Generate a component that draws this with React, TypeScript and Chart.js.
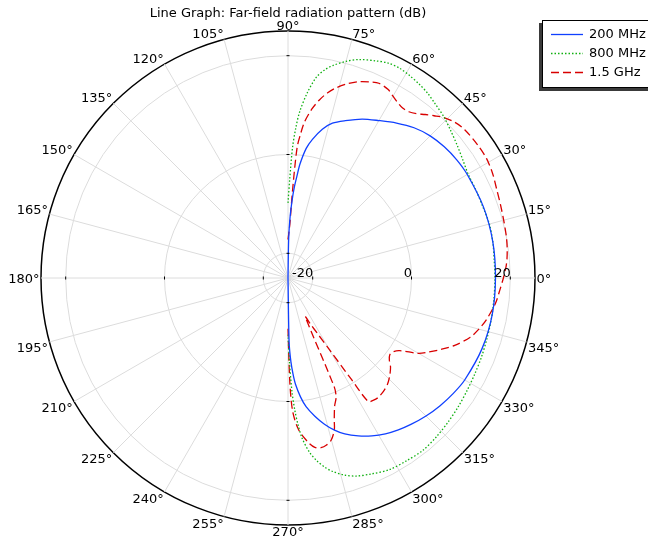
import React, { useEffect, useRef } from 'react';
import { Chart, registerables, RadarController } from 'chart.js';

Chart.register(...registerables);

// Radar controller whose line is left open (a far-field cut from -90 to 90 degrees).
class OpenRadarController extends (RadarController as any) {
  static id = 'openRadar';
  update(mode: any) {
    super.update(mode);
    const line: any = (this as any)._cachedMeta.dataset;
    if (line) {
      line._loop = false;
      line._fullLoop = false;
      delete line._segments;
      delete line._path;
      line._pointsUpdated = false;
    }
  }
}
Chart.register(OpenRadarController as any);

// ---------------- data ----------------
const TITLE = 'Line Graph: Far-field radiation pattern (dB)';
const SERIES_NAMES = ['200 MHz', '800 MHz', '1.5 GHz'];
const R_MIN = -25;
const R_MAX = 25;
const RADIAL_TICKS = [-20, 0, 20];
const ANGLE_TICKS = [0, 15, 30, 45, 60, 75, 90, 105, 120, 135, 150, 165, 180, 195, 210, 225, 240, 255, 270, 285, 300, 315, 330, 345];

// angles in degrees (counter-clockwise from the right), values in dB
const ANGLES_200MHZ = [90, 89, 88, 87, 86, 85, 84, 82, 80, 77, 74, 70, 65, 60, 55, 50, 45, 40, 35, 30, 20, 10, 0, -10, -20, -30, -35, -40, -45, -50, -54, -58, -62, -66, -70, -73, -76, -79, -82, -84, -86, -87, -88, -89, -90];
const DB_200MHZ = [-25, -17, -12.5, -9.3, -6.5, -4.3, -1.8, 1.5, 3.5, 5.9, 7.6, 8.9, 10.5, 11.8, 13.3, 14.7, 15.7, 16.3, 16.7, 16.9, 17.1, 17.1, 17.0, 17.0, 16.8, 16.3, 15.8, 15.2, 14.5, 13.7, 13.0, 12.2, 11.2, 10.0, 8.6, 7.2, 5.5, 3.5, 1.3, -0.8, -3.5, -5.5, -8, -12, -25];

const ANGLES_800MHZ = [90, 89, 88, 87, 86, 84, 82, 80, 78, 75, 72, 68, 65, 62, 59, 56, 53, 50, 46, 42, 38, 34, 30, 25, 20, 15, 10, 5, 0, -6, -12, -17, -22, -27, -32, -37, -42, -47, -52, -57, -62, -67, -71, -74, -77, -79, -81, -83, -85, -86, -87, -88, -89, -90];
const DB_800MHZ = [-9.8, -5, 1.5, 5.5, 8.7, 12.8, 16.0, 17.8, 19.0, 20.4, 21.5, 22.4, 23.0, 23.1, 22.8, 22.4, 21.9, 21.2, 20.4, 19.4, 18.5, 17.7, 17.1, 17.0, 17.0, 17.2, 17.1, 16.9, 16.9, 16.9, 17.0, 17.1, 17.3, 17.5, 17.8, 18.2, 18.6, 19.0, 19.3, 19.1, 18.9, 18.1, 17.4, 16.5, 15.2, 14.0, 12.5, 10.5, 7.5, 5, 2, -2, -8, -13.5];

const ANGLES_1_5GHZ = [90, 89, 88, 87, 86, 85, 84, 82, 80, 78, 76, 73, 70, 67, 65, 62, 60, 58, 56, 54, 52, 50, 48, 46, 43, 40, 35, 31, 27, 23, 19, 15, 11, 8, 5, 3, 0, -3, -7, -12, -15, -18, -22, -25, -28, -30, -33, -35, -37, -39, -41, -44, -47, -50, -53, -55, -57, -58, -60, -62, -64, -66, -67, -68, -70, -72, -73, -75, -77, -79, -81, -83, -86, -88, -89, -90];
const DB_1_5GHZ = [-17.2, -16, -14, -7, 1.5, 4.3, 6.7, 9.5, 11.6, 13.3, 14.6, 16.1, 17.3, 18.1, 18.5, 18.2, 17.5, 16.9, 16.5, 16.6, 17.2, 18.2, 19.2, 20.2, 21.2, 21.7, 21.9, 21.9, 21.5, 20.9, 20.5, 20.2, 20.0, 19.8, 19.5, 19.2, 18.6, 18.0, 17.3, 16.0, 15.0, 13.8, 11.4, 9.2, 7.0, 5.5, 2.0, 1.0, 0.8, 1.4, 2.5, 3.6, 4.5, 5.0, 5.3, 5.2, 4.8, -0.9, -8.3, -12.2, -14.6, -16.4, -1.0, 1.0, 2.6, 5.3, 7.1, 8.9, 9.7, 10.0, 9.7, 8.5, 5.8, 2.0, -4, -15];

const COLORS = ['#1040ff', '#10b010', '#d80000'];
const DASHES: number[][] = [[], [1.5, 2], [8, 4]];

// ---------------- helpers ----------------
const N_DIR = 360; // one radar spoke per degree, spoke 0 at the top (90 deg)
const FONT = '"DejaVu Sans", sans-serif';
const indexOfAngle = (deg: number) => (((90 - deg) % N_DIR) + N_DIR) % N_DIR;
const LABELS = Array.from({ length: N_DIR }, (_, i) => `${(((90 - i) % 360) + 360) % 360}°`);
const buildSeries = (angles: number[], values: number[]) => {
  const d: (number | null)[] = new Array(N_DIR).fill(null);
  angles.forEach((a, k) => {
    d[indexOfAngle(a)] = values[k];
  });
  return d;
};

const overlayPlugin = {
  id: 'polarOverlay',
  afterDatasetsDraw(chart: any) {
    const s = chart.scales.r;
    const ctx = chart.ctx as CanvasRenderingContext2D;
    ctx.save();
    // small tick marks on the main axes
    ctx.strokeStyle = '#000';
    ctx.lineWidth = 1;
    for (const th of [0, 90, 180, 270]) {
      for (const v of RADIAL_TICKS) {
        const p = s.getPointPositionForValue(indexOfAngle(th), v);
        const tx = -Math.sin(p.angle) * 1.5;
        const ty = Math.cos(p.angle) * 1.5;
        ctx.beginPath();
        ctx.moveTo(p.x - tx, p.y - ty);
        ctx.lineTo(p.x + tx, p.y + ty);
        ctx.stroke();
      }
    }
    // radial tick labels along 0 deg
    ctx.fillStyle = '#000';
    ctx.font = `13px ${FONT}`;
    ctx.textAlign = 'right';
    ctx.textBaseline = 'alphabetic';
    for (const v of RADIAL_TICKS) {
      const p = s.getPointPositionForValue(indexOfAngle(0), v);
      ctx.fillText(String(v), p.x + 0.5, p.y - 1);
    }
    // angle labels
    const capH = 9.5;
    for (const th of ANGLE_TICKS) {
      const p = s.getPointPosition(indexOfAngle(th), s.drawingArea + 1.5);
      const c = Math.cos((th * Math.PI) / 180);
      const sn = Math.sin((th * Math.PI) / 180);
      ctx.textAlign = Math.abs(c) < 0.01 ? 'center' : c > 0 ? 'left' : 'right';
      let y = p.y + capH / 2;
      if (sn > 0.01) y = p.y;
      else if (sn < -0.01) y = p.y + capH;
      ctx.fillText(`${th}°`, p.x, y);
    }
    ctx.restore();
  },
  afterDraw(chart: any) {
    const ctx = chart.ctx as CanvasRenderingContext2D;
    ctx.save();
    const bx = 542, by = 20, bw = 112, bh = 68;
    ctx.fillStyle = '#3a3a3a';
    ctx.fillRect(bx - 3, by + 3, bw, bh);
    ctx.fillStyle = '#fff';
    ctx.fillRect(bx, by, bw, bh);
    ctx.strokeStyle = '#000';
    ctx.lineWidth = 1;
    ctx.strokeRect(bx + 0.5, by + 0.5, bw - 1, bh - 1);
    ctx.font = `13px ${FONT}`;
    ctx.textBaseline = 'middle';
    ctx.textAlign = 'left';
    SERIES_NAMES.forEach((name, k) => {
      const y = by + 14.5 + k * 19;
      ctx.strokeStyle = COLORS[k];
      ctx.lineWidth = 1.3;
      ctx.setLineDash(DASHES[k]);
      ctx.beginPath();
      ctx.moveTo(551, y);
      ctx.lineTo(583, y);
      ctx.stroke();
      ctx.setLineDash([]);
      ctx.fillStyle = '#000';
      ctx.fillText(name, 589, y);
    });
    ctx.restore();
  },
};

export default function App() {
  const ref = useRef<HTMLCanvasElement | null>(null);
  useEffect(() => {
    if (!ref.current) return;
    Chart.defaults.font.family = FONT;
    const series = [
      buildSeries(ANGLES_200MHZ, DB_200MHZ),
      buildSeries(ANGLES_800MHZ, DB_800MHZ),
      buildSeries(ANGLES_1_5GHZ, DB_1_5GHZ),
    ];
    const chart = new Chart(ref.current, {
      type: 'openRadar' as any,
      data: {
        labels: LABELS,
        datasets: series.map((d, k) => ({
          label: SERIES_NAMES[k],
          data: d,
          borderColor: COLORS[k],
          backgroundColor: 'rgba(0,0,0,0)',
          borderWidth: 1.3,
          borderDash: DASHES[k],
          fill: false,
          spanGaps: true,
          tension: 0.3,
          pointRadius: 0,
          pointHoverRadius: 0,
        })),
      },
      options: {
        responsive: false,
        devicePixelRatio: 1,
        animation: false,
        events: [],
        layout: { padding: { left: 41, right: 113, top: 0, bottom: 16 } },
        scales: {
          r: {
            min: R_MIN,
            max: R_MAX,
            startAngle: 0,
            afterBuildTicks: (scale: any) => {
              scale.ticks = [R_MIN, ...RADIAL_TICKS, R_MAX].map((v) => ({ value: v }));
            },
            ticks: { display: false },
            pointLabels: { display: false },
            grid: {
              circular: true,
              color: (c: any) => (c.tick.value === R_MAX ? '#000' : c.tick.value === R_MIN ? 'rgba(0,0,0,0)' : '#dcdcdc'),
              lineWidth: (c: any) => (c.tick.value === R_MAX ? 1.5 : 1),
            },
            angleLines: {
              display: true,
              color: '#dcdcdc',
              lineWidth: (c: any) => (c.index % 15 === 0 ? 1 : 0),
            },
          },
        } as any,
        plugins: {
          legend: { display: false },
          tooltip: { enabled: false },
          title: {
            display: true,
            text: TITLE,
            color: '#000',
            font: { family: FONT, size: 13, weight: 'normal' },
            padding: { top: 6, bottom: 9.4 },
          },
        },
      } as any,
      plugins: [overlayPlugin],
    });
    return () => chart.destroy();
  }, []);
  return (
    <div style={{ position: 'fixed', left: 0, top: 0, width: 648, height: 541, background: '#fff' }}>
      <canvas ref={ref} width={648} height={541} style={{ display: 'block' }} />
    </div>
  );
}
